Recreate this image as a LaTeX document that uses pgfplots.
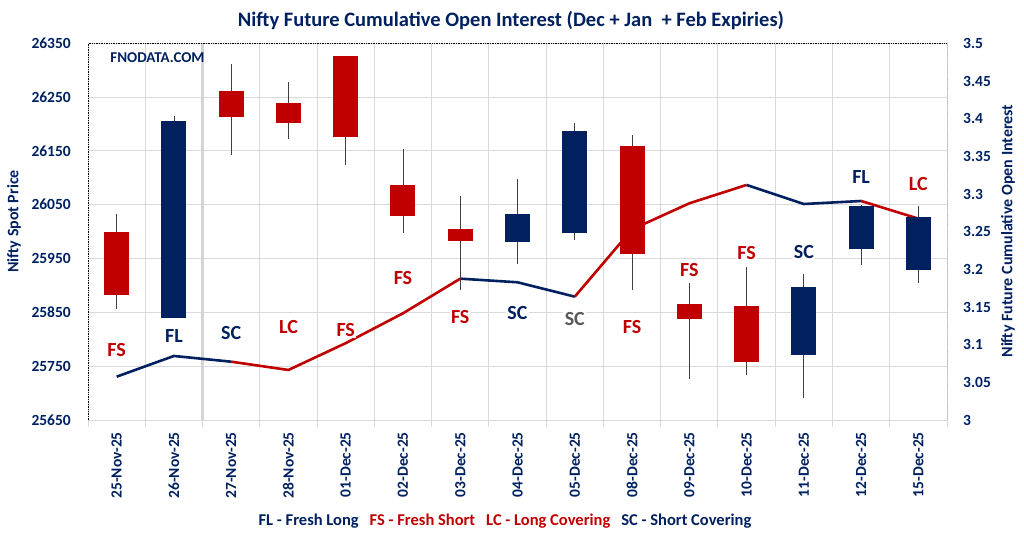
\documentclass[border=0pt]{standalone}
\usepackage{fontspec}
\setmainfont{Carlito}
\usepackage{pgfplots}
\usepackage{pgfplotstable}
\pgfplotsset{compat=1.18}

\definecolor{fnored}{HTML}{C00000}
\definecolor{fnonavy}{HTML}{002060}
\definecolor{fnogray}{HTML}{595959}
\definecolor{gridgray}{HTML}{D9D9D9}

% candles: low, body bottom, body top, high
\pgfplotstableread{
x lo bot top hi
1  25856 25882 25999 26033
3  26142 26213 26261 26311
4  26173 26202 26239 26279
5  26123 26175 26326 26326
6  25997 26030 26087 26154
7  25892 25983 26005 26066
10 25892 25959 26159 26179
11 25726 25838 25866 25904
12 25733 25757 25862 25934
}\redcandles
\pgfplotstableread{
x lo bot top hi
2  25840 25840 26206 26215
8  25939 25980 26033 26097
9  25985 25998 26187 26201
13 25690 25770 25897 25921
14 25938 25968 26048 26050
15 25904 25929 26027 26048
}\navycandles

% label positions (left axis units)
\pgfplotstableread{
x y lab
1  25780 FS
4  25823 LC
5  25817 FS
6  25914 FS
7  25841 FS
10 25823 FS
11 25929 FS
12 25960 FS
15 26089 LC
}\redlabels
\pgfplotstableread{
x y lab
2  25806 FL
3  25812 SC
8  25849 SC
13 25962 SC
14 26102 FL
}\navylabels
\pgfplotstableread{
x y lab
9  25838 SC
}\graylabels

\pgfplotsset{
  fnobase/.style={
    at={(88pt,121pt)}, anchor=south west,
    width=859pt, height=376.7pt, scale only axis,
    xmin=0.5, xmax=15.5,
  },
  tickfont/.style={font=\fontsize{15.5}{18}\selectfont\bfseries, text=fnonavy},
  wick/.style={draw=none, mark=none,
    error bars/.cd, y dir=minus, y explicit, error mark=none,
    error bar style={draw=black!75, line width=0.8pt}},
  body/.style={draw=none, mark=none,
    error bars/.cd, y dir=minus, y explicit, error mark=none,
    error bar style={draw=#1, line width=25pt, line cap=butt}},
  lab/.style={draw=none, mark=none, nodes near coords,
    point meta=explicit symbolic, nodes near coords align=center,
    every node near coord/.append style={font=\fontsize{20}{24}\selectfont\bfseries,
      text=#1, fill=white, inner sep=1.5pt, anchor=center}},
}

\begin{document}
\begin{tikzpicture}
\useasboundingbox (0pt,0pt) rectangle (1024pt,541pt);

% grid, left axis, dates
\begin{axis}[fnobase,
  ymin=25650, ymax=26350,
  scaled y ticks=false,
  ytick={25650,25750,25850,25950,26050,26150,26250,26350},
  yticklabels={25650,25750,25850,25950,26050,26150,26250,26350},
  xtick={1,...,15},
  xticklabels={25-Nov-25,26-Nov-25,27-Nov-25,28-Nov-25,01-Dec-25,02-Dec-25,03-Dec-25,04-Dec-25,05-Dec-25,08-Dec-25,09-Dec-25,10-Dec-25,11-Dec-25,12-Dec-25,15-Dec-25},
  minor xtick={0.5,1.5,...,15.5},
  extra x ticks={2.5}, extra x tick labels={},
  extra x tick style={xmajorgrids, major grid style={draw=black!17, line width=2.4pt}},
  xminorgrids, ymajorgrids,
  major grid style={draw=gridgray, line width=0.9pt},
  minor grid style={draw=gridgray, line width=0.9pt},
  minor tick style={draw=gridgray, line width=0.9pt},
  major tick length=0pt, minor tick length=7pt, tick align=outside,
  tick pos=left,
  axis line style={draw=none},
  ticklabel style={tickfont, inner sep=0pt},
  xticklabel style={rotate=90, anchor=east},
  xticklabel shift=12pt, yticklabel shift=17pt,
]
\draw[densely dotted, line width=0.7pt] (rel axis cs:0,0) -- (rel axis cs:0,1)
  -- (rel axis cs:1,1) -- (rel axis cs:1,0);
\end{axis}

% open interest, right axis
\begin{axis}[fnobase,
  ymin=3, ymax=3.5,
  hide x axis, axis y line*=right, axis line style={draw=none},
  ytick={3,3.05,3.1,3.15,3.2,3.25,3.3,3.35,3.4,3.45,3.5},
  yticklabels={3,3.05,3.1,3.15,3.2,3.25,3.3,3.35,3.4,3.45,3.5},
  major tick length=0pt,
  ticklabel style={tickfont, inner sep=0pt},
  yticklabel shift=16pt,
]
\addplot[fnonavy, line width=2.6pt, line join=round] coordinates {(1,3.0575) (2,3.085) (3,3.0774)};
\addplot[fnored, line width=2.6pt, line join=round] coordinates {(3,3.0774) (4,3.0664) (5,3.102) (6,3.1416) (7,3.1876)};
\addplot[fnonavy, line width=2.6pt, line join=round] coordinates {(7,3.1876) (8,3.1828) (9,3.1637)};
\addplot[fnored, line width=2.6pt, line join=round] coordinates {(9,3.1637) (10,3.253) (11,3.2876) (12,3.312)};
\addplot[fnonavy, line width=2.6pt, line join=round] coordinates {(12,3.312) (13,3.2867) (14,3.2907)};
\addplot[fnored, line width=2.6pt, line join=round] coordinates {(14,3.2907) (15,3.2673)};
\end{axis}

% candles and position labels, left axis
\begin{axis}[fnobase,
  ymin=25650, ymax=26350, hide axis,
]
\addplot[wick] table[x=x, y=hi, y error minus expr=\thisrow{hi}-\thisrow{lo}] {\redcandles};
\addplot[wick] table[x=x, y=hi, y error minus expr=\thisrow{hi}-\thisrow{lo}] {\navycandles};
\addplot[body=fnored] table[x=x, y=top, y error minus expr=\thisrow{top}-\thisrow{bot}] {\redcandles};
\addplot[body=fnonavy] table[x=x, y=top, y error minus expr=\thisrow{top}-\thisrow{bot}] {\navycandles};

\addplot[lab=fnored] table[x=x, y=y, meta=lab] {\redlabels};
\addplot[lab=fnonavy] table[x=x, y=y, meta=lab] {\navylabels};
\addplot[lab=fnogray] table[x=x, y=y, meta=lab] {\graylabels};
\end{axis}

\node[font=\fontsize{20.5}{24}\selectfont\bfseries, text=fnonavy] at (511pt,520pt)
  {Nifty Future Cumulative Open Interest (Dec + Jan\ \ + Feb Expiries)};
\node[font=\fontsize{15}{18}\selectfont\bfseries, text=fnonavy] at (157.5pt,483pt) {FNODATA.COM};
\node[font=\fontsize{16}{19}\selectfont\bfseries, text=fnonavy, rotate=90] at (14pt,319.5pt) {Nifty Spot Price};
\node[font=\fontsize{16}{19}\selectfont\bfseries, text=fnonavy, rotate=90] at (1008pt,310pt) {Nifty Future Cumulative Open Interest};
\node[font=\fontsize{16.5}{19}\selectfont\bfseries] at (505pt,20pt)
  {\textcolor{fnonavy}{FL - Fresh Long}\hspace{11pt}\textcolor{fnored}{FS - Fresh Short}\hspace{11pt}\textcolor{fnored}{LC - Long Covering}\hspace{11pt}\textcolor{fnonavy}{SC - Short Covering}};
\end{tikzpicture}
\end{document}
